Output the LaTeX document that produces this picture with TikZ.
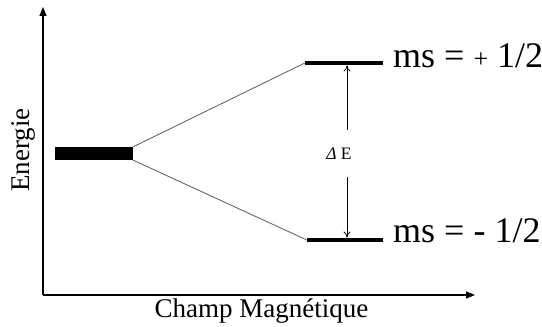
\documentclass[tikz,border=0pt]{standalone}
\usepackage{fontspec}
\setmainfont{Liberation Serif}
\usetikzlibrary{arrows.meta}
\begin{document}
\begin{tikzpicture}[x=1pt,y=1pt,
 axis/.style={line width=1.2pt,-{Triangle[length=9pt,width=7pt]}},
 levelbar/.style={fill=black,inner sep=0pt,minimum height=4.5pt},
 link/.style={draw=gray!70!black,line width=0.8pt},
 gap/.style={line width=0.8pt,-{To[length=6pt,width=7pt]}},
 lbl/.style={inner sep=0pt,anchor=base west,font=\fontsize{36}{40}\selectfont}]
\useasboundingbox (0,0) rectangle (542,327);
\coordinate (O) at (43,32);
\coordinate (Ytop) at (43,320);
\coordinate (Xend) at (475,32);
\draw[axis] (O) -- (Ytop);
\draw[axis] (O) -- (Xend);
\node[fill=black,minimum width=78pt,minimum height=13pt,inner sep=0pt] (g) at (94,173.5) {};
\node[levelbar,minimum width=78pt] (up) at (344,264) {};
\node[levelbar,minimum width=76pt] (lo) at (345,87) {};
\draw[link] (g.north east) -- (up.west);
\draw[link] (g.south east) -- (lo.west);
\node[inner sep=0pt,font=\fontsize{17.5}{20}\selectfont] (dE) at (339,173.5) {\textit{Δ} E};
\coordinate (a1) at (347,197);
\coordinate (a2) at (347,150);
\draw[gap] (a1) -- (up.south -| a1);
\draw[gap] (a2) -- (lo.north -| a2);
\node[lbl] (lu) at (393,259) {ms = {\fontsize{26}{28}\selectfont +} 1/2};
\node[lbl] (ll) at (393,84) {ms = - 1/2};
\node[rotate=90,inner sep=0pt,font=\fontsize{27}{30}\selectfont] (en) at (23,177) {Energie};
\node[inner sep=0pt,anchor=base,font=\fontsize{27}{30}\selectfont] (ch) at (261.5,9) {Champ Magnétique};
\end{tikzpicture}
\end{document}
